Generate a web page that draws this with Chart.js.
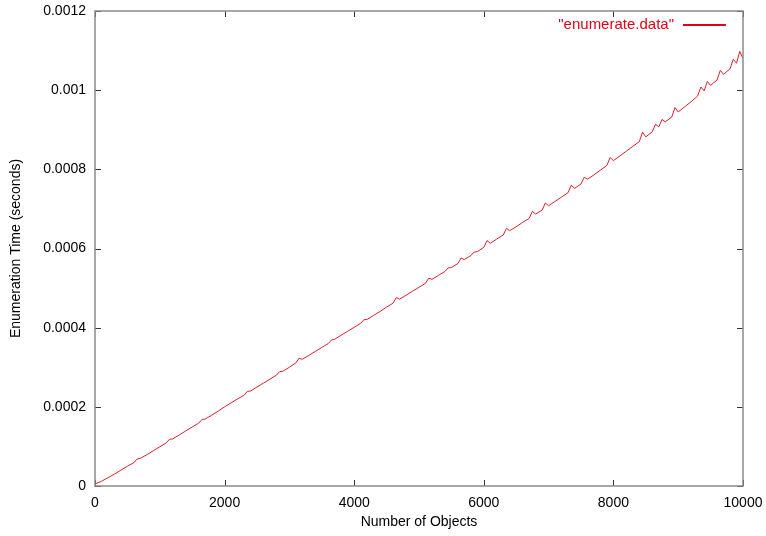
<!DOCTYPE html>
<html>
<head>
<meta charset="utf-8">
<script src="https://cdn.jsdelivr.net/npm/chart.js@4"></script>
<style>
  html, body { margin: 0; padding: 0; background: #fff; }
  #wrap { width: 766px; height: 536px; }
</style>
</head>
<body>
<div id="wrap"><canvas id="context"></canvas></div>
<script>
// number of objects enumerated
const objectCounts = [
  0, 100, 200, 300, 400, 500, 600, 650, 700, 800, 900,
  1000, 1100, 1150, 1200, 1300, 1400, 1500, 1600, 1650, 1700, 1800, 1900,
  2000, 2100, 2200, 2300, 2350, 2400, 2500, 2600, 2700, 2800, 2850, 2900,
  3000, 3100, 3150, 3200, 3300, 3400, 3500, 3600, 3650, 3700, 3800, 3900,
  4000, 4100, 4150, 4200, 4300, 4400, 4500, 4600, 4650, 4700, 4800, 4900,
  5000, 5100, 5150, 5200, 5300, 5400, 5450, 5500, 5600, 5650, 5700, 5800, 5850, 5900,
  6000, 6050, 6100, 6200, 6300, 6350, 6400, 6500, 6600, 6700, 6750, 6800, 6900, 6950,
  7000, 7100, 7200, 7300, 7350, 7400, 7500, 7550, 7600, 7700, 7800, 7900, 7950,
  8000, 8100, 8200, 8300, 8400, 8450, 8500, 8600, 8650, 8700, 8750, 8800, 8900, 8950,
  9000, 9100, 9200, 9300, 9350, 9400, 9450, 9500, 9600, 9650, 9700, 9800, 9850, 9900, 9950,
  10000
];

// enumeration time in seconds
const enumerationTimes = [
  5e-6, 12e-6, 21e-6, 30e-6, 40e-6, 50e-6, 59e-6, 68e-6, 70e-6, 79e-6, 89e-6,
  99e-6, 109e-6, 118e-6, 119e-6, 129e-6, 139e-6, 149e-6, 159e-6, 168e-6, 169e-6, 179e-6, 189e-6,
  200e-6, 210e-6, 220e-6, 229e-6, 239e-6, 240e-6, 250e-6, 260e-6, 270e-6, 280e-6, 289e-6, 290e-6,
  300e-6, 311e-6, 323e-6, 320e-6, 330e-6, 340e-6, 350e-6, 360e-6, 369e-6, 371e-6, 381e-6, 391e-6,
  401e-6, 411e-6, 420e-6, 421e-6, 431e-6, 441e-6, 452e-6, 462e-6, 476e-6, 472e-6, 482e-6, 492e-6,
  502e-6, 512e-6, 525e-6, 522e-6, 532e-6, 542e-6, 551e-6, 552e-6, 562e-6, 576e-6, 572e-6, 582e-6, 591e-6, 592e-6,
  603e-6, 620e-6, 613e-6, 624e-6, 634e-6, 651e-6, 645e-6, 655e-6, 666e-6, 676e-6, 694e-6, 687e-6, 697e-6, 715e-6,
  708e-6, 719e-6, 730e-6, 741e-6, 760e-6, 752e-6, 763e-6, 780e-6, 775e-6, 786e-6, 798e-6, 810e-6, 830e-6,
  822e-6, 834e-6, 846e-6, 858e-6, 870e-6, 894e-6, 882e-6, 895e-6, 914e-6, 907e-6, 926e-6, 920e-6, 932e-6, 956e-6,
  945e-6, 958e-6, 971e-6, 985e-6, 1008e-6, 998e-6, 1022e-6, 1012e-6, 1026e-6, 1050e-6, 1040e-6, 1054e-6, 1078e-6, 1068e-6, 1098e-6,
  1080e-6
];

const seriesLabel = '"enumerate.data"';
const xTickStep = 2000;
const yTickStep = 0.0002;

const lineColour = '#d8202c';
const legendColour = '#e00018';
const frameColour = '#8a8a8a';
const tickColour = '#333333';
const fontFamily = '"Liberation Sans", Arial, Helvetica, sans-serif';

/**
 * Draws the gnuplot style frame, inward mirrored ticks and the key
 */
const gnuplotFrame = {
  id: 'gnuplotFrame',
  afterDraw(chart) {
    const {ctx, chartArea: area, scales: {x, y}} = chart;
    const tickLen = 6;
    ctx.save();

    ctx.strokeStyle = tickColour;
    ctx.lineWidth = 1;
    ctx.beginPath();
    x.ticks.forEach(t => {
      const px = Math.round(x.getPixelForValue(t.value)) + 0.5;
      ctx.moveTo(px, area.bottom);
      ctx.lineTo(px, area.bottom - tickLen);
      ctx.moveTo(px, area.top);
      ctx.lineTo(px, area.top + tickLen);
    });
    y.ticks.forEach(t => {
      const py = Math.round(y.getPixelForValue(t.value)) + 0.5;
      ctx.moveTo(area.left, py);
      ctx.lineTo(area.left + tickLen, py);
      ctx.moveTo(area.right, py);
      ctx.lineTo(area.right - tickLen, py);
    });
    ctx.stroke();

    ctx.strokeStyle = frameColour;
    ctx.lineWidth = 1.5;
    ctx.strokeRect(area.left, area.top, area.right - area.left, area.bottom - area.top);

    // key: text followed by a line sample
    const keyY = Math.round(area.top + 14);
    const dataset = chart.data.datasets[0];
    ctx.font = '15px ' + fontFamily;
    ctx.fillStyle = legendColour;
    ctx.textAlign = 'right';
    ctx.textBaseline = 'middle';
    ctx.fillText(dataset.label, area.right - 69, keyY);
    ctx.fillStyle = legendColour;
    ctx.fillRect(Math.round(area.right - 60), keyY - 1, 43, 2);

    ctx.restore();
  }
};

function init() {
  const ctx = document.getElementById('context');

  const data = {
    datasets: [{
      label: seriesLabel,
      data: objectCounts.map((count, i) => ({x: count, y: enumerationTimes[i]})),
      borderColor: lineColour,
      borderWidth: 1,
      pointRadius: 0,
      tension: 0,
      fill: false
    }]
  };

  Chart.defaults.font.family = fontFamily;
  Chart.defaults.color = '#000';

  new Chart(ctx, {
    type: 'line',
    data,
    options: {
      responsive: true,
      maintainAspectRatio: false,
      animation: false,
      layout: {padding: {top: 11, right: 23, bottom: 0, left: 0}},
      plugins: {
        legend: {display: false},
        tooltip: {enabled: false}
      },
      scales: {
        x: {
          type: 'linear',
          min: 0,
          max: 10000,
          grid: {display: false, drawTicks: false},
          border: {display: false},
          ticks: {
            stepSize: xTickStep,
            padding: 9,
            maxRotation: 0,
            font: {size: 14},
            callback: value => String(value)
          },
          title: {
            display: true,
            text: 'Number of Objects',
            font: {size: 14},
            padding: {top: 2, bottom: 5}
          },
          afterFit: scale => {
            scale.height = 50;
            scale.paddingLeft = 0;
            scale.paddingRight = 0;
          }
        },
        y: {
          min: 0,
          max: 0.0012,
          grid: {display: false, drawTicks: false},
          border: {display: false},
          ticks: {
            stepSize: yTickStep,
            padding: 9,
            font: {size: 14},
            callback: value => String(Number(value.toFixed(6)))
          },
          title: {
            display: true,
            text: 'Enumeration Time (seconds)',
            font: {size: 14},
            padding: {top: 8, bottom: 2}
          },
          afterFit: scale => {
            scale.width = 95;
            scale.paddingTop = 0;
            scale.paddingBottom = 0;
          }
        }
      }
    },
    plugins: [gnuplotFrame]
  });
}

init();
</script>
</body>
</html>
